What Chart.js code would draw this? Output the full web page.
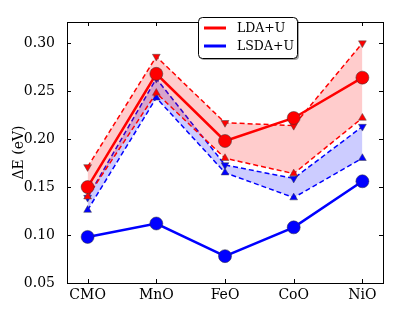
<!DOCTYPE html>
<html>
<head>
<meta charset="utf-8">
<script src="https://cdn.jsdelivr.net/npm/chart.js@4/dist/chart.umd.min.js"></script>
<style>
  html, body { margin: 0; padding: 0; background: #fff; }
  #wrap { width: 415px; height: 312px; }
</style>
</head>
<body>
<div id="wrap"><canvas id="myChart" width="415" height="312"></canvas></div>
<script>
// ============== data ==============
const categories = ["CMO", "MnO", "FeO", "CoO", "NiO"];
const yTicks = [0.05, 0.10, 0.15, 0.20, 0.25, 0.30];

const ldaU = [0.150, 0.268, 0.198, 0.222, 0.264];
const ldaUpper = [0.171, 0.286, 0.217, 0.214, 0.300];
const ldaLower = [0.140, 0.248, 0.180, 0.164, 0.222];

const lsdaU = [0.098, 0.112, 0.078, 0.108, 0.156];
const lsdaUpper = [0.139, 0.263, 0.173, 0.159, 0.213];
const lsdaLower = [0.126, 0.243, 0.165, 0.139, 0.180];

const legendItems = [
  { label: "LDA+U", color: "#ff0000" },
  { label: "LSDA+U", color: "#0000ff" },
];

const serif = "'DejaVu Serif', serif";

function pts(values) {
  return values.map((v, i) => ({ x: i, y: v }));
}

function bandSet(values, color, fillColor, down, order) {
  return {
    data: pts(values),
    borderColor: color,
    borderWidth: 1.5,
    borderDash: [5, 3],
    pointStyle: "triangle",
    pointRotation: down ? 180 : 0,
    pointRadius: 4.5,
    pointBackgroundColor: color,
    pointBorderColor: "#444",
    pointBorderWidth: 0.5,
    fill: fillColor ? "+1" : false,
    backgroundColor: fillColor || "transparent",
    tension: 0,
    order: order,
  };
}

function mainSet(values, color, order) {
  return {
    data: pts(values),
    borderColor: color,
    borderWidth: 2.5,
    pointStyle: "circle",
    pointRadius: 6.5,
    pointBackgroundColor: color,
    pointBorderColor: "#333",
    pointBorderWidth: 0.5,
    fill: false,
    tension: 0,
    order: order,
  };
}

// ticks pointing inward on all four sides + box frame
const framePlugin = {
  id: "frame",
  afterDatasetsDraw(chart) {
    const { ctx, chartArea: a, scales } = chart;
    ctx.save();
    ctx.strokeStyle = "#000";
    ctx.lineWidth = 1;
    ctx.beginPath();
    categories.forEach((c, i) => {
      const x = Math.round(scales.x.getPixelForValue(i)) + 0.5;
      ctx.moveTo(x, a.bottom);
      ctx.lineTo(x, a.bottom - 4);
      ctx.moveTo(x, a.top);
      ctx.lineTo(x, a.top + 4);
    });
    yTicks.forEach((v) => {
      const y = Math.round(scales.y.getPixelForValue(v)) + 0.5;
      ctx.moveTo(a.left, y);
      ctx.lineTo(a.left + 4, y);
      ctx.moveTo(a.right, y);
      ctx.lineTo(a.right - 4, y);
    });
    ctx.stroke();
    ctx.strokeRect(Math.round(a.left) + 0.5, Math.round(a.top) + 0.5,
      Math.round(a.right - a.left), Math.round(a.bottom - a.top));
    ctx.restore();
  },
};

// legend box inside the axes, upper middle
const legendPlugin = {
  id: "boxLegend",
  afterDraw(chart) {
    const ctx = chart.ctx;
    const x = 198, y = 17, w = 99, h = 41;
    ctx.save();
    ctx.fillStyle = "rgba(0,0,0,0.35)";
    roundRect(ctx, x + 2, y + 2, w, h, 4);
    ctx.fill();
    ctx.fillStyle = "#fff";
    ctx.strokeStyle = "#000";
    ctx.lineWidth = 1;
    roundRect(ctx, x + 0.5, y + 0.5, w, h, 4);
    ctx.fill();
    ctx.stroke();
    ctx.font = "12.5px " + serif;
    ctx.textBaseline = "middle";
    legendItems.forEach((it, i) => {
      const ly = y + 11 + i * 18;
      ctx.strokeStyle = it.color;
      ctx.lineWidth = 3;
      ctx.beginPath();
      ctx.moveTo(x + 6, ly);
      ctx.lineTo(x + 28, ly);
      ctx.stroke();
      ctx.fillStyle = "#000";
      ctx.fillText(it.label, x + 39, ly + 1);
    });
    ctx.restore();
  },
};

function roundRect(ctx, x, y, w, h, r) {
  ctx.beginPath();
  ctx.moveTo(x + r, y);
  ctx.arcTo(x + w, y, x + w, y + h, r);
  ctx.arcTo(x + w, y + h, x, y + h, r);
  ctx.arcTo(x, y + h, x, y, r);
  ctx.arcTo(x, y, x + w, y, r);
  ctx.closePath();
}

const ctx = document.getElementById("myChart").getContext("2d");
new Chart(ctx, {
  type: "line",
  data: {
    datasets: [
      bandSet(ldaUpper, "#ff0000", "rgba(255,0,0,0.2)", true, 3),
      bandSet(ldaLower, "#ff0000", null, false, 3),
      bandSet(lsdaUpper, "#0000ff", "rgba(0,0,255,0.2)", true, 4),
      bandSet(lsdaLower, "#0000ff", null, false, 4),
      mainSet(ldaU, "#ff0000", 1),
      mainSet(lsdaU, "#0000ff", 2),
    ],
  },
  options: {
    responsive: false,
    animation: false,
    layout: { padding: { top: 22, right: 32, left: 0, bottom: 0 } },
    plugins: { legend: { display: false }, tooltip: { enabled: false } },
    scales: {
      x: {
        type: "linear",
        min: -0.3,
        max: 4.3,
        grid: { display: false },
        border: { display: false },
        afterBuildTicks: (s) => { s.ticks = categories.map((c, i) => ({ value: i })); },
        afterFit: (s) => { s.height = 29; },
        ticks: {
          color: "#000",
          padding: -4,
          maxRotation: 0,
          autoSkip: false,
          font: { family: serif, size: 14 },
          callback: (v) => categories[v],
        },
      },
      y: {
        min: 0.05,
        max: 0.322,
        grid: { display: false },
        border: { display: false },
        afterBuildTicks: (s) => { s.ticks = yTicks.map((v) => ({ value: v })); },
        afterFit: (s) => { s.width = 67; },
        ticks: {
          color: "#000",
          padding: 4,
          font: { family: serif, size: 14 },
          callback: (v) => v.toFixed(2),
        },
        title: {
          display: true,
          text: "ΔE (eV)",
          color: "#000",
          padding: { top: 11, bottom: 0 },
          font: { family: serif, size: 14 },
        },
      },
    },
  },
  plugins: [framePlugin, legendPlugin],
});
</script>
</body>
</html>
